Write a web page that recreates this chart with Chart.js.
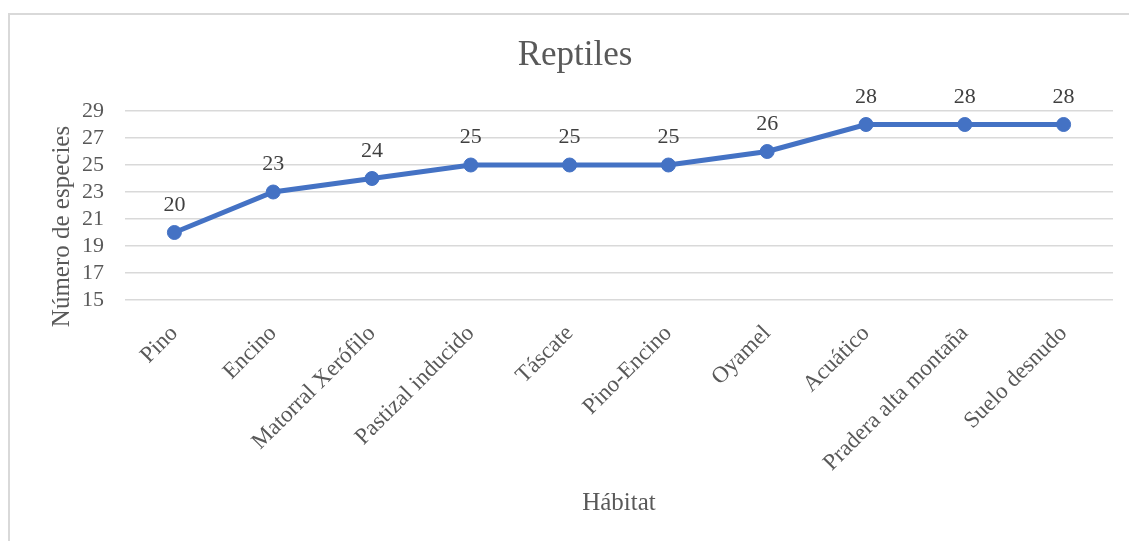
<!DOCTYPE html>
<html>
<head>
<meta charset="utf-8">
<script src="https://cdn.jsdelivr.net/npm/chart.js@4.4.0/dist/chart.umd.min.js"></script>
<style>
  html, body { margin: 0; padding: 0; background: #fff; overflow: hidden; }
  #wrap { position: relative; width: 1129px; height: 541px; }
  #frame { position: absolute; left: 8px; top: 13px; width: 1200px; height: 600px; border: 2px solid #d9d9d9; box-sizing: border-box; }
  #chart { position: absolute; left: 0; top: 0; }
</style>
</head>
<body>
<div id="wrap">
  <div id="frame"></div>
  <canvas id="chart" width="1129" height="541"></canvas>
</div>
<script>
const habitats = ['Pino', 'Encino', 'Matorral Xerófilo', 'Pastizal inducido', 'Táscate',
  'Pino-Encino', 'Oyamel', 'Acuático', 'Pradera alta montaña', 'Suelo desnudo'];
const especies = [20, 23, 24, 25, 25, 25, 26, 28, 28, 28];
const yTicks = [15, 17, 19, 21, 23, 25, 27, 29];

const serif = '"Liberation Serif", "Times New Roman", serif';
const textGray = '#595959';

// value labels above each point
const valueLabels = {
    id: 'valueLabels',
    afterDatasetsDraw(chart) {
        const ctx = chart.ctx;
        const meta = chart.getDatasetMeta(0);
        ctx.save();
        ctx.font = '22px ' + serif;
        ctx.fillStyle = '#404040';
        ctx.textAlign = 'center';
        ctx.textBaseline = 'alphabetic';
        meta.data.forEach((pt, i) => {
            ctx.fillText(String(especies[i]), pt.x, pt.y - 22);
        });
        ctx.restore();
    }
};

// y axis title, centred a bit lower than the plot like the original
const yTitle = {
    id: 'yTitle',
    afterDraw(chart) {
        const ctx = chart.ctx;
        const a = chart.chartArea;
        ctx.save();
        ctx.translate(chart.scales.y.left + 25, (a.top + a.bottom) / 2 + 21);
        ctx.rotate(-Math.PI / 2);
        ctx.font = '25px ' + serif;
        ctx.fillStyle = textGray;
        ctx.textAlign = 'center';
        ctx.textBaseline = 'middle';
        ctx.fillText('Número de especies', 0, 0);
        ctx.restore();
    }
};

new Chart(document.getElementById('chart'), {
    type: 'line',
    data: {
        labels: habitats,
        datasets: [{
            data: especies,
            borderColor: '#4472C4',
            backgroundColor: '#4472C4',
            borderWidth: 5,
            pointRadius: 7,
            pointBorderWidth: 1,
            pointBackgroundColor: '#4472C4',
            pointBorderColor: '#4472C4',
            tension: 0,
            fill: false
        }]
    },
    options: {
        responsive: false,
        animation: false,
        layout: { padding: { left: 37, right: 16, top: 0, bottom: 0 } },
        plugins: {
            legend: { display: false },
            tooltip: { enabled: false },
            title: {
                display: true,
                text: 'Reptiles',
                color: textGray,
                font: { family: serif, size: 35, weight: 'normal', lineHeight: 1.2 },
                padding: { top: 35, bottom: 34 }
            }
        },
        scales: {
            x: {
                offset: true,
                grid: { display: false, drawTicks: false },
                border: { display: false },
                ticks: {
                    color: textGray,
                    font: { family: serif, size: 23 },
                    minRotation: 45,
                    maxRotation: 45,
                    autoSkip: false,
                    padding: 20
                },
                title: {
                    display: true,
                    text: 'Hábitat',
                    color: textGray,
                    font: { family: serif, size: 25, lineHeight: 1.2 },
                    padding: { top: 0, bottom: 23 }
                },
                afterFit(scale) { scale.height = 241; }
            },
            y: {
                min: 15,
                max: 29,
                afterBuildTicks(scale) { scale.ticks = yTicks.map(v => ({ value: v })); },
                grid: { color: '#d9d9d9', lineWidth: 1.5, drawTicks: false },
                border: { display: false },
                ticks: {
                    color: textGray,
                    font: { family: serif, size: 22 },
                    padding: 21,
                    autoSkip: false
                },
                afterFit(scale) { scale.width = 88; }
            }
        }
    },
    plugins: [valueLabels, yTitle]
});
</script>
</body>
</html>
